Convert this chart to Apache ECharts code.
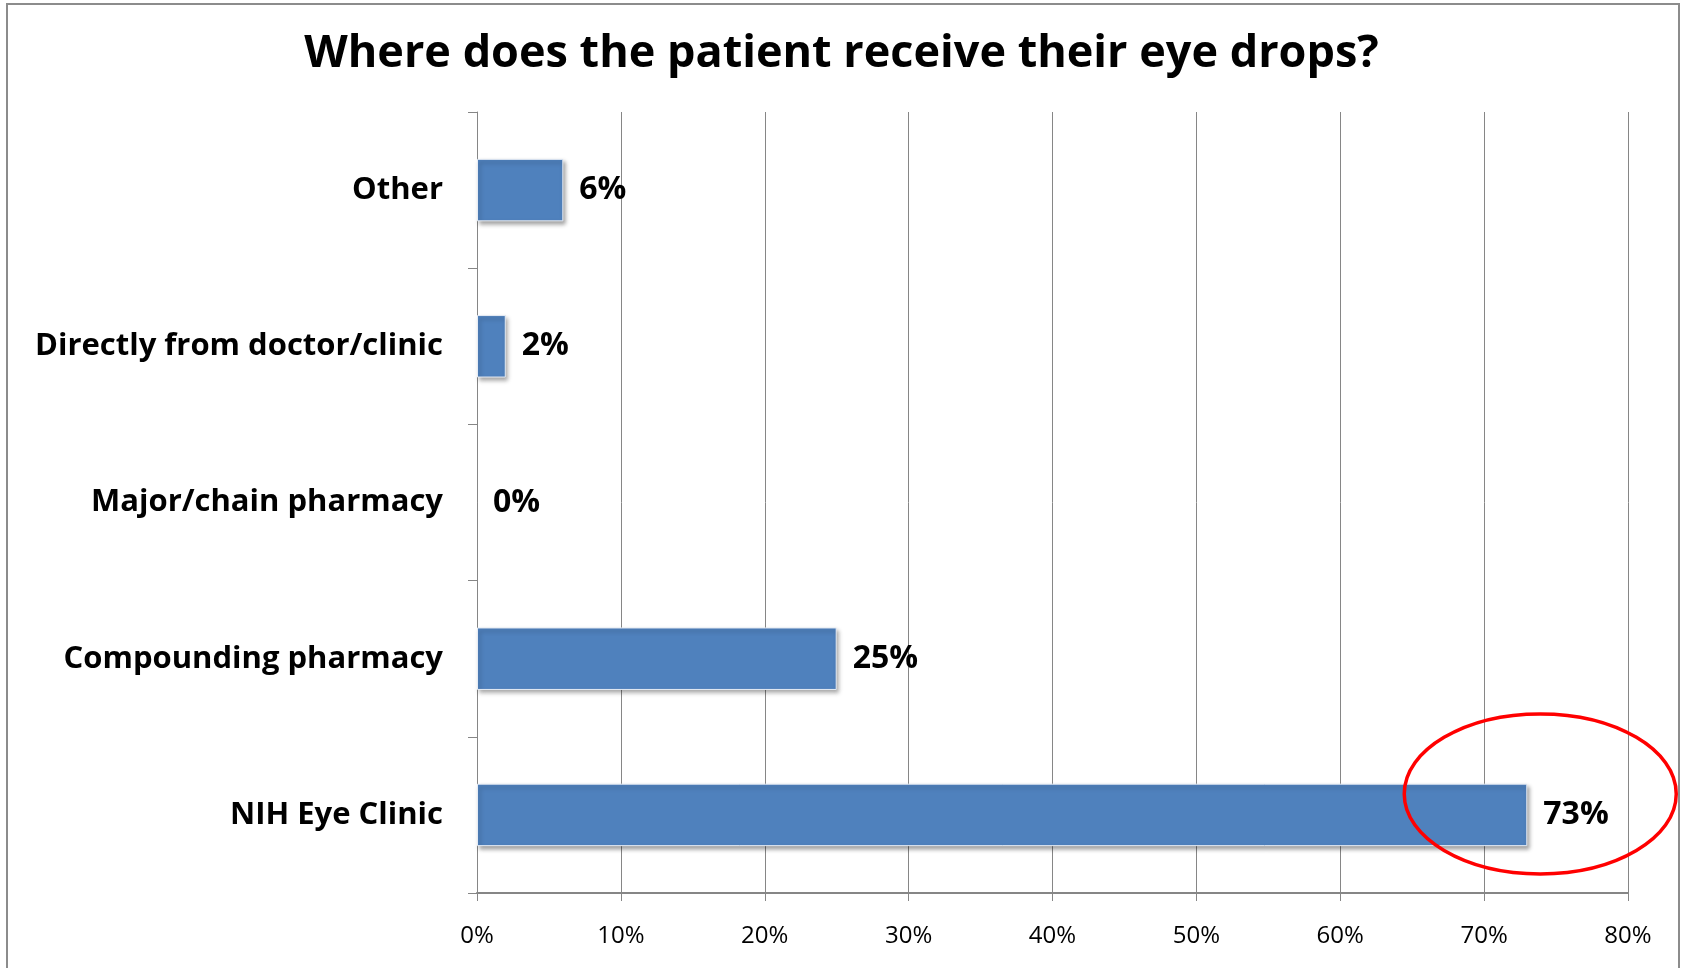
<!DOCTYPE html>
<html><head><meta charset="utf-8">
<script src="https://cdn.jsdelivr.net/npm/echarts@6/dist/echarts.min.js"></script>
<style>html,body{margin:0;padding:0;background:#fff}#c{width:1683px;height:968px}</style>
</head><body><div id="c"></div>
<script>
const titleText = 'Where does the patient receive their eye drops?';
const categories = ['NIH Eye Clinic','Compounding pharmacy','Major/chain pharmacy','Directly from doctor/clinic','Other'];
const values = [73, 25, 0, 2, 6];
const xTicks = [0, 10, 20, 30, 40, 50, 60, 70, 80];
const highlightCategory = 'NIH Eye Clinic';

const FONT = '"Open Sans", "Noto Sans", sans-serif';
const chart = echarts.init(document.getElementById('c'), null, {renderer: 'canvas'});
const barData = values.map(v => v === 0
  ? {value: v, itemStyle: {borderWidth: 0, shadowBlur: 0, shadowOffsetX: 0, shadowOffsetY: 0, shadowColor: 'rgba(0,0,0,0)'}}
  : {value: v});
const option = {
  backgroundColor: '#fff',
  animation: false,
  title: {
    text: titleText, left: 'center', top: 27,
    textStyle: {fontFamily: FONT, fontWeight: 'bold', fontSize: 45, color: '#000'}
  },
  grid: {left: 477, right: 55, top: 112, bottom: 75, containLabel: false},
  xAxis: {
    type: 'value', min: xTicks[0], max: xTicks[xTicks.length - 1], interval: 10,
    axisLine: {show: true, lineStyle: {color: '#868686', width: 2}},
    axisTick: {show: true, length: 8, lineStyle: {color: '#868686', width: 1}},
    splitLine: {show: true, lineStyle: {color: '#868686', width: 1}},
    axisLabel: {formatter: v => v + '%', fontFamily: FONT, fontSize: 24, color: '#000', margin: 31}
  },
  yAxis: {
    type: 'category', data: categories,
    axisLine: {show: true, lineStyle: {color: '#868686', width: 1}},
    axisTick: {show: true, length: 9, lineStyle: {color: '#868686', width: 1}},
    axisLabel: {fontFamily: FONT, fontWeight: 'bold', fontSize: 31, color: '#000', margin: 34}
  },
  series: [{
    type: 'bar', data: barData, barWidth: '40%',
    itemStyle: {
      color: '#4F81BD', borderColor: '#E6ECF5', borderWidth: 1,
      shadowColor: 'rgba(0,0,0,0.35)', shadowBlur: 4, shadowOffsetX: 2, shadowOffsetY: 3
    },
    label: {
      show: true, position: 'right', distance: 16, formatter: p => p.value + '%',
      fontFamily: FONT, fontWeight: 'bold', fontSize: 32, color: '#000', padding: [4, 0, 0, 0]
    }
  }],
  graphic: [{
    type: 'rect', shape: {x: 7, y: 4, width: 1672, height: 1000},
    style: {fill: 'none', stroke: '#8c8c8c', lineWidth: 2}, z: 100
  }]
};
chart.setOption(option);
const idx = categories.indexOf(highlightCategory);
const c = chart.convertToPixel({gridIndex: 0}, [values[idx] + 0.9, idx]);
chart.setOption({graphic: [option.graphic[0], {
  type: 'ellipse', shape: {cx: c[0], cy: c[1] - 21, rx: 136, ry: 80},
  style: {fill: 'none', stroke: '#FF0000', lineWidth: 3.5}, z: 101
}]});
</script></body></html>
